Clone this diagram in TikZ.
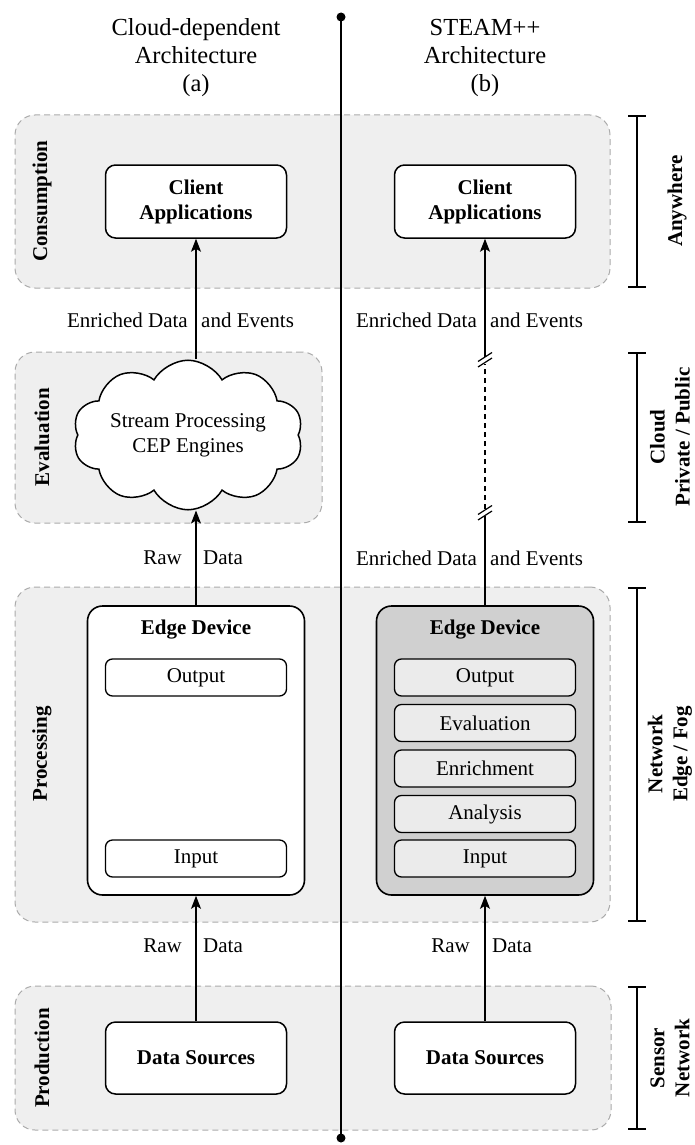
\documentclass[tikz,border=0pt]{standalone}
\usepackage{fontspec}
\setmainfont{Liberation Serif}
\usetikzlibrary{arrows.meta,shapes.symbols,calc}
\definecolor{bandfill}{HTML}{EFEFEF}
\definecolor{banddraw}{HTML}{ABABAB}
\definecolor{edgefill}{HTML}{D0D0D0}
\definecolor{subfill}{HTML}{EBEBEB}
\begin{document}
\begin{tikzpicture}[x=1pt,y=-1pt,
  every node/.style={font=\fontsize{21}{25}\selectfont, inner sep=0pt},
  band/.style={rectangle, draw=banddraw, fill=bandfill, dash pattern=on 6pt off 4pt, line width=1pt, rounded corners=20pt},
  box/.style={rectangle, draw, fill=white, line width=1.5pt, rounded corners=10pt, minimum width=181pt, align=center, font=\fontsize{21}{25}\selectfont\bfseries},
  edgebox/.style={rectangle, draw, line width=1.6pt, rounded corners=15pt, minimum width=217pt, minimum height=289pt},
  subbox/.style={rectangle, draw, line width=1.3pt, rounded corners=7pt, minimum width=181pt, minimum height=37pt},
  bold/.style={font=\fontsize{21}{25}\selectfont\bfseries},
  sidelbl/.style={rotate=90, align=center, font=\fontsize{21}{25}\selectfont\bfseries},
  title/.style={align=center, font=\fontsize{24.5}{28}\selectfont},
  arr/.style={-{Stealth[length=13pt,width=10pt,inset=3pt]}, line width=1.1pt},
  bracket/.style={line width=1.8pt, {Bar[width=18pt]}-{Bar[width=18pt]}},
  brk/.style={line width=1.2pt}
]
\useasboundingbox (0,0) rectangle (695,1145);

% bands
\node[band, minimum width=595pt, minimum height=173pt] (cons) at (312.5,201.5) {};
\node[band, minimum width=307pt, minimum height=171pt] (eval) at (168.5,437.5) {};
\node[band, minimum width=595pt, minimum height=335pt] (proc) at (312.5,754.5) {};
\node[band, minimum width=596pt, minimum height=144pt] (prod) at (313,1058) {};

% band labels (left)
\node[sidelbl] (lcons) at (42,201) {Consumption};
\node[sidelbl] (leval) at (42,437) {Evaluation};
\node[sidelbl] (lproc) at (42,754) {Processing};
\node[sidelbl] (lprod) at (42,1058) {Production};

% titles
\node[title] (ta) at (196,58) {Cloud-dependent\\Architecture\\(a)};
\node[title] (tb) at (485,58) {STEAM++\\Architecture\\(b)};

% center divider
\coordinate (ctop) at (341,17);
\coordinate (cbot) at (341,1138);
\draw[line width=1.1pt] (ctop) -- (cbot);
\fill (ctop) circle (4.5pt);
\fill (cbot) circle (4.5pt);

% client applications
\node[box, minimum height=73pt] (clL) at (196,201.5) {Client\\Applications};
\node[box, minimum height=73pt] (clR) at (485,201.5) {Client\\Applications};

% cloud
\node[cloud, cloud puffs=10, cloud puff arc=120, aspect=1.9, draw, line width=1.5pt, fill=white,
      minimum width=230pt, minimum height=124pt, align=center] (cep) at (188,435) {Stream Processing\\CEP Engines};

% edge devices
\node[edgebox, fill=white] (edL) at (196,750.5) {};
\node[edgebox, fill=edgefill] (edR) at (485,750.5) {};
\node[bold] (etL) at (196,630) {Edge Device};
\node[bold] (etR) at (485,630) {Edge Device};

\node[subbox, fill=white] (outL) at (196,677.5) {Output};
\node[subbox, fill=white] (inL) at (196,858.5) {Input};

\node[subbox, fill=subfill] (outR) at (485,677.5) {Output};
\node[subbox, fill=subfill] (evR) at (485,723) {Evaluation};
\node[subbox, fill=subfill] (enR) at (485,768.5) {Enrichment};
\node[subbox, fill=subfill] (anR) at (485,814) {Analysis};
\node[subbox, fill=subfill] (inR) at (485,858.5) {Input};

% data sources
\node[box, minimum height=72pt] (dsL) at (196,1058) {Data Sources};
\node[box, minimum height=72pt] (dsR) at (485,1058) {Data Sources};

% left arrows
\draw[arr] (dsL.north) -- (edL.south);
\draw[arr] (edL.north) -- (edL.north |- cep.south);
\draw[arr] (clL.south |- cep.north) -- (clL.south);

% right arrows
\draw[arr] (dsR.north) -- (edR.south);
\coordinate (bk1) at (485,360);
\coordinate (bk2) at (485,513);
\draw[line width=1.1pt] (edR.north) -- ($(bk2)+(0,3)$);
\draw[line width=1.2pt, dash pattern=on 5pt off 4pt] ($(bk2)+(0,-4)$) -- ($(bk1)+(0,4)$);
\draw[arr] ($(bk1)+(0,-3)$) -- (clR.south);
\draw[brk] ($(bk1)+(-7,1.5)$) -- ($(bk1)+(7,-7.5)$);
\draw[brk] ($(bk1)+(-7,7)$) -- ($(bk1)+(7,-2)$);
\draw[brk] ($(bk2)+(-7,1.5)$) -- ($(bk2)+(7,-7.5)$);
\draw[brk] ($(bk2)+(-7,7)$) -- ($(bk2)+(7,-2)$);

% arrow labels
\node[anchor=mid east] (e1a) at (188,325) {Enriched Data};
\node[anchor=mid west] (e1b) at (201,325) {and Events};
\node[anchor=mid east] (e2a) at (477,325) {Enriched Data};
\node[anchor=mid west] (e2b) at (490,325) {and Events};
\node[anchor=mid east] (r1a) at (182,562) {Raw};
\node[anchor=mid west] (r1b) at (203,562) {Data};
\node[anchor=mid east] (e3a) at (477,563) {Enriched Data};
\node[anchor=mid west] (e3b) at (490,563) {and Events};
\node[anchor=mid east] (r2a) at (182,950) {Raw};
\node[anchor=mid west] (r2b) at (203,950) {Data};
\node[anchor=mid east] (r3a) at (470,950) {Raw};
\node[anchor=mid west] (r3b) at (492,950) {Data};

% right brackets
\draw[bracket] (637,115) -- (637,288);
\draw[bracket] (637,352) -- (637,523);
\draw[bracket] (637,587) -- (637,922);
\draw[bracket] (637,986) -- (637,1130);
\node[sidelbl] (rany) at (677,201) {Anywhere};
\node[sidelbl] (rcld) at (670,437) {Cloud\\Private / Public};
\node[sidelbl] (rnet) at (670,754) {Network\\Edge / Fog};
\node[sidelbl] (rsen) at (670,1058) {Sensor\\Network};
\end{tikzpicture}
\end{document}
